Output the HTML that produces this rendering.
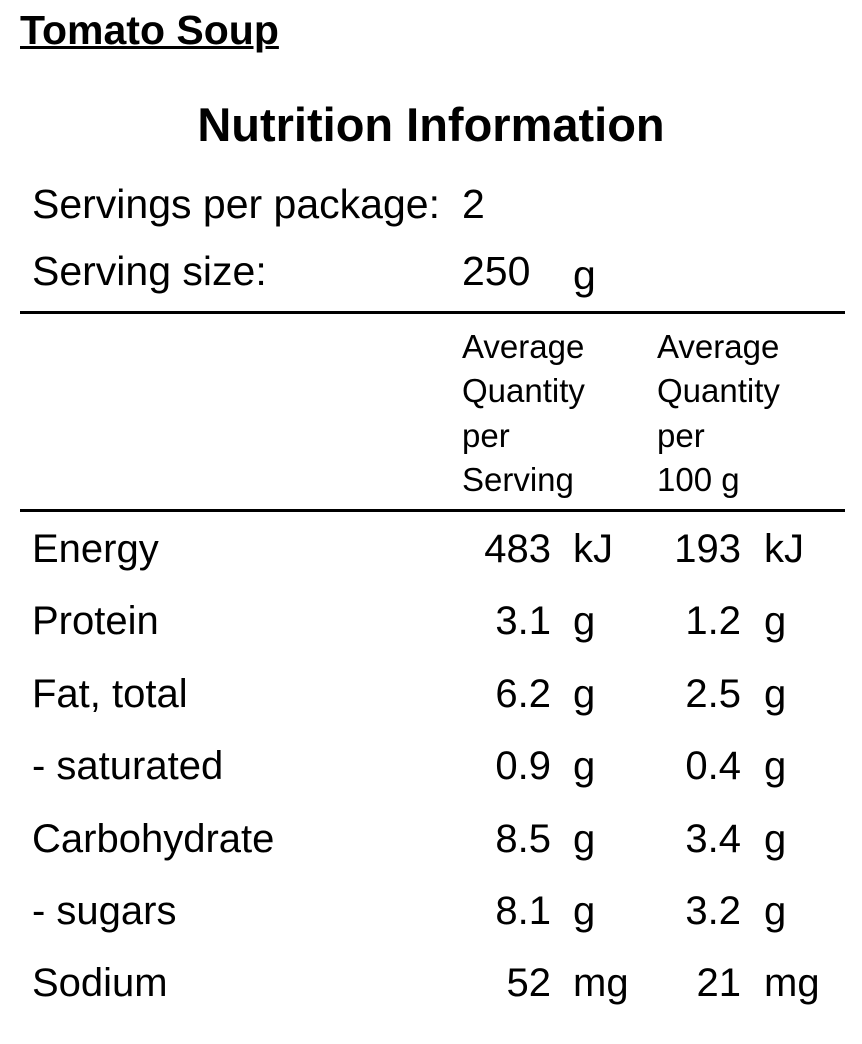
<!DOCTYPE html>
<html><head><meta charset="utf-8">
<style>
html,body{margin:0;padding:0;background:#fff;}
body{width:862px;height:1044px;position:relative;overflow:hidden;font-family:"Liberation Sans",Arial,sans-serif;color:#000;}
.t{position:absolute;white-space:nowrap;line-height:1;}
.r{text-align:right;}
.rule{position:absolute;left:20px;width:825px;height:3px;background:#000;}
.row{font-size:40px;}
.hd{font-size:33px;}
</style></head><body>
<div class="t" style="left:20px;top:10px;font-size:41px;font-weight:bold;text-decoration:underline;text-decoration-thickness:3px;">Tomato Soup</div>
<div class="t" style="left:0;width:862px;text-align:center;top:101px;font-size:47px;font-weight:bold;">Nutrition Information</div>
<div class="t" style="left:32px;top:184px;font-size:41px;">Servings per package:</div>
<div class="t" style="left:462px;top:184px;font-size:41px;">2</div>
<div class="t" style="left:32px;top:251px;font-size:41px;">Serving size:</div>
<div class="t" style="left:462px;top:251px;font-size:41px;">250</div>
<div class="t" style="left:573px;top:255px;font-size:41px;">g</div>
<div class="rule" style="top:311px;"></div>
<div class="t hd" style="left:462px;top:325px;line-height:44.3px;">Average<br>Quantity<br>per<br>Serving</div>
<div class="t hd" style="left:657px;top:325px;line-height:44.3px;">Average<br>Quantity<br>per<br>100 g</div>
<div class="rule" style="top:509px;"></div>
<div id="rows"></div>
<script>
const labels=["Energy","Protein","Fat, total","- saturated","Carbohydrate","- sugars","Sodium"];
const perServing=["483","3.1","6.2","0.9","8.5","8.1","52"];
const per100=["193","1.2","2.5","0.4","3.4","3.2","21"];
const units=["kJ","g","g","g","g","g","mg"];
const rows=document.getElementById('rows');
function add(text,style,name){
  const d=document.createElement('div');
  d.className='t row'+(style.right!==undefined?' r':'');
  d.textContent=text;
  
  
  for(const k in style) d.style[k]=style[k]+'px';
  rows.appendChild(d);
}
labels.forEach((l,i)=>{
  const top=529+i*72.4;
  add(l,{left:32,top:top},'nutrient-label');
  add(perServing[i],{right:862-551,top:top},'per-serving-value');
  add(units[i],{left:573,top:top},'per-serving-unit');
  add(per100[i],{right:862-741,top:top},'per-100g-value');
  add(units[i],{left:764,top:top},'per-100g-unit');
});
</script>
</body></html>
